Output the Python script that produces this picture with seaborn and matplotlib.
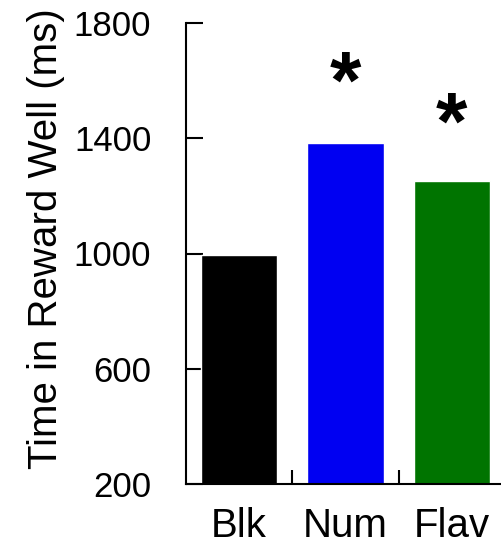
import matplotlib
matplotlib.use("Agg")
import matplotlib.pyplot as plt
import seaborn as sns
import pandas as pd
from matplotlib.ticker import FixedLocator

categories = ["Blk", "Num", "Flav"]
values = [995, 1385, 1250]
colors = ["#000000", "#0000f2", "#007400"]
sig_labels = ["", "*", "*"]
sig_heights = [0, 1580, 1437]
yticks = [200, 600, 1000, 1400, 1800]

sns.set_style("white")
plt.rcParams["font.family"] = ["Liberation Sans", "DejaVu Sans"]
plt.rcParams["text.color"] = "black"
plt.rcParams["axes.labelcolor"] = "black"
plt.rcParams["xtick.labelcolor"] = "black"
plt.rcParams["ytick.labelcolor"] = "black"

df = pd.DataFrame({"cond": categories, "val": values})

fig = plt.figure(figsize=(5.02, 5.46), dpi=100)
ax = fig.add_axes([186/502, 62/546, 319/502, 461/546])

sns.barplot(data=df, x="cond", y="val", hue="cond", palette=colors,
            order=categories, hue_order=categories, legend=False,
            width=0.72, saturation=1, ax=ax)

ax.set_ylim(200, 1800)
ax.set_xlim(-0.5, 2.5)
ax.set_yticks(yticks)
ax.set_yticklabels([str(t) for t in yticks])
ax.xaxis.set_minor_locator(FixedLocator([0.5, 1.5]))

for s in ["top", "right"]:
    ax.spines[s].set_visible(False)
for s in ["left", "bottom"]:
    ax.spines[s].set_color("black")
    ax.spines[s].set_linewidth(1.5)

ax.tick_params(axis="y", direction="in", length=12, width=1.5, labelsize=25,
               pad=25, color="black", left=True)
ax.tick_params(axis="x", which="major", length=0, labelsize=29, pad=16.5)
ax.tick_params(axis="x", which="minor", direction="in", length=10, width=1.5,
               color="black", bottom=True)

ax.set_xlabel("")
ax.set_ylabel("Time in Reward Well (ms)", fontsize=29)
ax.yaxis.set_label_coords(-0.38, 0.5325)

for i, (lab, h) in enumerate(zip(sig_labels, sig_heights)):
    if lab:
        ax.text(i, h, lab, ha="center", va="center", fontsize=58,
                fontweight="bold", color="black")

fig.savefig("out.png", dpi=100)
